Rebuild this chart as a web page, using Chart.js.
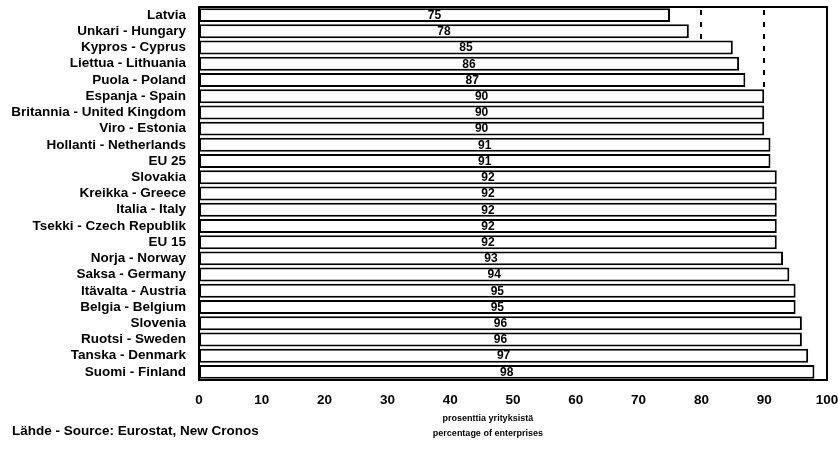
<!DOCTYPE html>
<html>
<head>
<meta charset="utf-8">
<script src="https://cdn.jsdelivr.net/npm/chart.js@4/dist/chart.umd.min.js"></script>
<style>
html,body{margin:0;padding:0;background:#fff;}
#wrap{width:838px;height:454px;position:relative;}
</style>
</head>
<body>
<div id="wrap"><canvas id="c" width="838" height="454"></canvas></div>
<script>
const categories = [
  'Latvia','Unkari - Hungary','Kypros - Cyprus','Liettua - Lithuania','Puola - Poland',
  'Espanja - Spain','Britannia - United Kingdom','Viro - Estonia','Hollanti - Netherlands','EU 25',
  'Slovakia','Kreikka - Greece','Italia - Italy','Tsekki - Czech Republik','EU 15',
  'Norja - Norway','Saksa - Germany','Itävalta - Austria','Belgia - Belgium','Slovenia',
  'Ruotsi - Sweden','Tanska - Denmark','Suomi - Finland'
];
const values = [75,78,85,86,87,90,90,90,91,91,92,92,92,92,92,93,94,95,95,96,96,97,98];
const dashedGridValues = [80,90];
const axisTitleLines = ['prosenttia yrityksistä','percentage of enterprises'];
const sourceText = 'Lähde - Source: Eurostat, New Cronos';

const FONT = '"Liberation Sans", Arial, sans-serif';

const extras = {
  id: 'extras',
  beforeDatasetsDraw(chart) {
    // dashed reference lines, only visible above the bars that reach them
    const ctx = chart.ctx;
    const a = chart.chartArea;
    const xs = chart.scales.x;
    const meta = chart.getDatasetMeta(0);
    ctx.save();
    ctx.strokeStyle = '#000';
    ctx.lineWidth = 2;
    ctx.setLineDash([5, 7]);
    dashedGridValues.forEach(gv => {
      const x = Math.round(xs.getPixelForValue(gv));
      let idx = values.findIndex(v => v >= gv);
      let yEnd = a.bottom;
      if (idx >= 0) {
        const b = meta.data[idx];
        yEnd = b.y - b.height / 2;
      }
      ctx.beginPath();
      ctx.moveTo(x, a.top + 3);
      ctx.lineTo(x, yEnd);
      ctx.stroke();
    });
    ctx.restore();
  },
  afterDatasetsDraw(chart) {
    const ctx = chart.ctx;
    const a = chart.chartArea;
    ctx.save();
    const meta = chart.getDatasetMeta(0);
    ctx.fillStyle = '#000';
    ctx.font = 'bold 12px ' + FONT;
    ctx.textAlign = 'center';
    ctx.textBaseline = 'middle';
    meta.data.forEach((bar, i) => {
      const cx = (bar.x + bar.base) / 2;
      ctx.fillText(String(values[i]), cx, bar.y + 0.5);
    });
    ctx.strokeStyle = '#000';
    ctx.lineWidth = 2;
    ctx.strokeRect(a.left, a.top, a.right - a.left, a.bottom - a.top);
    const xs = chart.scales.x;
    const tx = xs.getPixelForValue(46);
    ctx.font = 'bold 9px ' + FONT;
    ctx.textAlign = 'center';
    ctx.fillText(axisTitleLines[0], tx, 419);
    ctx.fillText(axisTitleLines[1], tx, 434);
    ctx.font = 'bold 13.5px ' + FONT;
    ctx.textAlign = 'left';
    ctx.fillText(sourceText, 12, 431);
    ctx.restore();
  }
};

new Chart(document.getElementById('c'), {
  type: 'bar',
  data: {
    labels: categories,
    datasets: [{
      data: values,
      backgroundColor: '#fff',
      borderColor: '#000',
      borderWidth: 2,
      borderSkipped: false,
      barPercentage: 0.86,
      categoryPercentage: 1.0
    }]
  },
  options: {
    indexAxis: 'y',
    responsive: false,
    animation: false,
    devicePixelRatio: 1,
    layout: { padding: { left: 0, right: 11, top: 7, bottom: 0 } },
    plugins: { legend: { display: false }, tooltip: { enabled: false } },
    scales: {
      x: {
        min: 0, max: 100,
        ticks: { stepSize: 10, color: '#000', font: { family: FONT, size: 13.5, weight: 'bold' }, padding: 12, maxRotation: 0 },
        grid: { display: false, drawTicks: false },
        border: { display: false },
        afterFit(s) { s.height = 74; s.paddingLeft = 0; s.paddingRight = 0; }
      },
      y: {
        ticks: { color: '#000', font: { family: FONT, size: 13.5, weight: 'bold' }, padding: 13, autoSkip: false },
        grid: { display: false, drawTicks: false },
        border: { display: false },
        afterFit(s) { s.width = 199; s.paddingTop = 0; s.paddingBottom = 0; }
      }
    }
  },
  plugins: [extras]
});
</script>
</body>
</html>
